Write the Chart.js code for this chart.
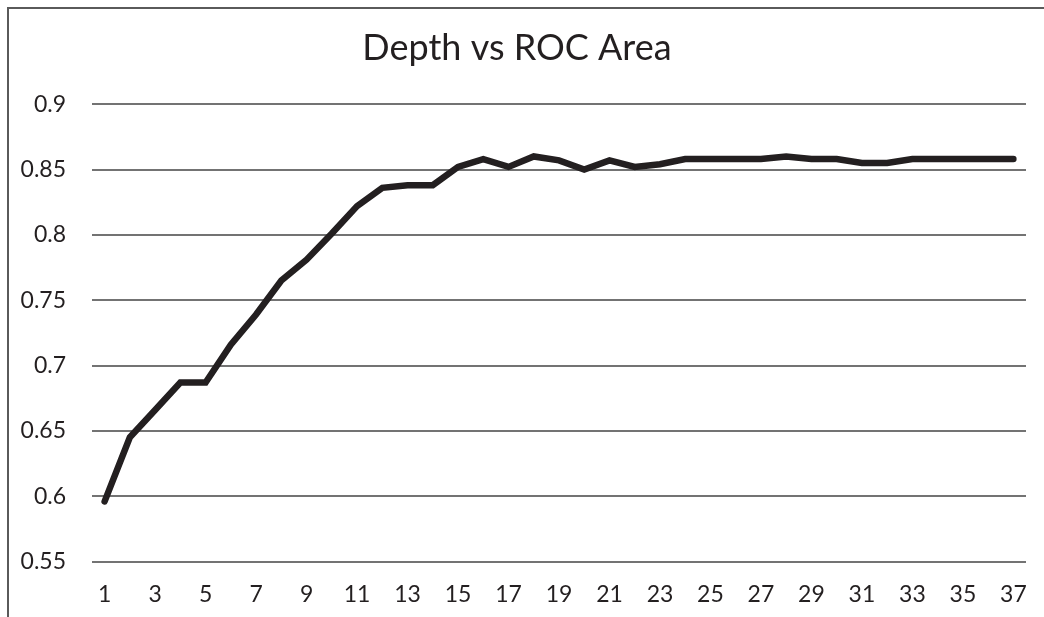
<!DOCTYPE html>
<html>
<head>
<meta charset="utf-8">
<script src="https://cdn.jsdelivr.net/npm/chart.js@4"></script>
<style>
  html, body { margin: 0; padding: 0; background: #fff; overflow: hidden; width: 1044px; height: 617px; }
  #frame { position: absolute; left: 7px; top: 7px; width: 1100px; height: 700px;
           border-left: 2px solid #5a5a5a; border-top: 2px solid #5a5a5a; }
  #c { position: absolute; left: 8px; top: 8px; }
</style>
</head>
<body>
<div id="frame"></div>
<canvas id="c" width="1043" height="609"></canvas>
<script>
const depths = Array.from({length: 37}, (_, i) => String(i + 1));
const rocArea = [
  0.596, 0.645, 0.666, 0.687, 0.687, 0.716, 0.739, 0.765, 0.781, 0.801,
  0.822, 0.836, 0.838, 0.838, 0.852, 0.858, 0.852, 0.860, 0.857, 0.850,
  0.857, 0.852, 0.854, 0.858, 0.858, 0.858, 0.858, 0.860, 0.858, 0.858,
  0.855, 0.855, 0.858, 0.858, 0.858, 0.858, 0.858
];
const yTicks = [0.55, 0.6, 0.65, 0.7, 0.75, 0.8, 0.85, 0.9];
const chartTitle = 'Depth vs ROC Area';

const FONT = 'Lato, "Open Sans", sans-serif';

new Chart(document.getElementById('c'), {
  type: 'line',
  data: {
    labels: depths,
    datasets: [{
      data: rocArea,
      borderColor: '#231f20',
      borderWidth: 6.5,
      borderCapStyle: 'round',
      borderJoinStyle: 'miter',
      pointRadius: 0,
      tension: 0,
      fill: false
    }]
  },
  options: {
    responsive: false,
    animation: false,
    devicePixelRatio: 1,
    layout: { padding: { left: 0, right: 25, top: 0, bottom: 0 } },
    plugins: {
      legend: { display: false },
      tooltip: { enabled: false },
      title: {
        display: true,
        text: chartTitle,
        color: '#231f20',
        font: { family: FONT, size: 36, weight: 'normal' },
        padding: { top: 19, bottom: 34 }
      }
    },
    scales: {
      x: {
        type: 'category',
        offset: true,
        grid: { display: false, drawTicks: false },
        border: { display: false },
        ticks: {
          autoSkip: false,
          maxRotation: 0,
          padding: 19,
          color: '#231f20',
          font: { family: FONT, size: 23 },
          callback: function(v, i) { return i % 2 === 0 ? depths[i] : ''; }
        },
        afterFit: function(s) { s.height = 55.5; }
      },
      y: {
        min: 0.55,
        max: 0.9,
        afterBuildTicks: function(s) { s.ticks = yTicks.map(v => ({ value: v })); },
        grid: { color: '#737373', lineWidth: 2, drawTicks: false },
        border: { display: false },
        ticks: {
          padding: 26,
          color: '#231f20',
          font: { family: FONT, size: 23 },
          callback: function(v) { return String(Math.round(v * 100) / 100); }
        },
        afterFit: function(s) { s.width = 84; }
      }
    }
  }
});
</script>
</body>
</html>
